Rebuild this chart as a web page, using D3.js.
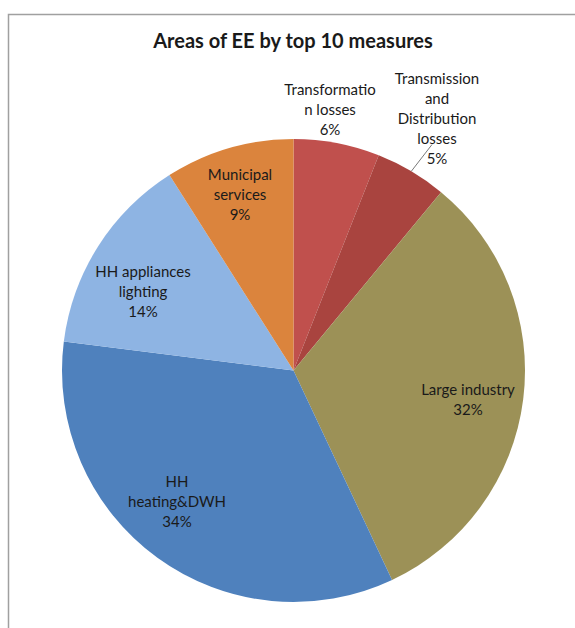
<!DOCTYPE html>
<html>
<head>
<meta charset="utf-8">
<script src="https://cdn.jsdelivr.net/npm/d3@7"></script>
<style>
  body { margin: 0; background: #fff; }
  svg text { font-family: Lato, "Open Sans", sans-serif; fill: #1a1a1a; }
</style>
</head>
<body>
<svg id="pie_chart" width="575" height="628"></svg>
<script>

  // data
  var categories = ["Transformation losses", "Transmission and Distribution losses", "Large industry",
                    "HH heating&DWH", "HH appliances lighting", "Municipal services"];
  var values = [6, 5, 32, 34, 14, 9];
  var labelLines = [["Transformatio", "n losses"], ["Transmission", "and", "Distribution", "losses"],
                    ["Large industry"], ["HH", "heating&DWH"], ["HH appliances", "lighting"], ["Municipal", "services"]];
  var colors = ["#C0504D", "#A9443F", "#9C9157", "#4F81BD", "#8EB4E3", "#DB843D"];

  var svg = d3.select("#pie_chart");

  // chart frame
  svg.append("rect")
     .attr("x", 8.5).attr("y", 14.5)
     .attr("width", 620).attr("height", 700)
     .attr("fill", "none")
     .attr("stroke", "#a0a0a0")
     .attr("stroke-width", 1.5);

  svg.append("text")
     .attr("x", 293).attr("y", 48)
     .attr("text-anchor", "middle")
     .style("font-size", "20px")
     .style("font-weight", "bold")
     .text("Areas of EE by top 10 measures");

  var cx = 293.5, cy = 370.5, radius = 231.5;

  var data = categories.map(function(c, i){ return {name: c, value: values[i], lines: labelLines[i], color: colors[i]}; });

  var pie = d3.pie().sort(null).value(function(d){ return d.value; });
  var arc = d3.arc().innerRadius(0).outerRadius(radius);

  var g = svg.append("g").attr("transform", "translate(" + cx + "," + cy + ")");

  var arcs = pie(data);

  g.selectAll("path")
   .data(arcs)
   .enter().append("path")
   .attr("d", arc)
   .attr("fill", function(d){ return d.data.color; });

  // label block centres, relative to pie centre
  var labelPos = [[36.5, -260.5], [143.5, -251.5], [174.5, 29.5], [-116.5, 131.5], [-150.5, -78.5], [-53.5, -175.5]];
  var lineHeight = 20;

  arcs.forEach(function(d, i){
    var mid = (d.startAngle + d.endAngle) / 2;
    var lx = labelPos[i][0], ly = labelPos[i][1];
    var lines = d.data.lines.concat([d.data.value + "%"]);
    var t = g.append("text")
             .attr("text-anchor", "middle")
             .style("font-size", "15px");
    lines.forEach(function(s, k){
      t.append("tspan")
       .attr("x", lx)
       .attr("y", ly + (k - (lines.length - 1) / 2) * lineHeight + 5)
       .text(s);
    });
    if (i == 1) {
      // leader line from the slice edge to the label
      g.append("line")
       .attr("x1", Math.sin(mid) * radius).attr("y1", -Math.cos(mid) * radius)
       .attr("x2", lx - 5).attr("y2", -226)
       .attr("stroke", "#555")
       .attr("stroke-width", 0.8);
    }
  });

</script>
</body>
</html>
